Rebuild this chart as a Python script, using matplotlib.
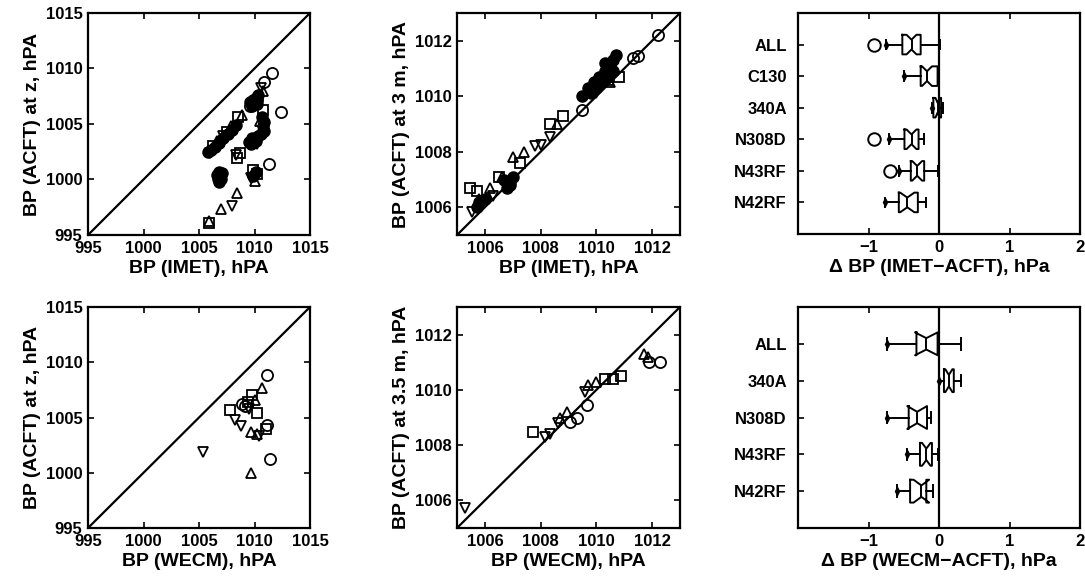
import matplotlib
matplotlib.use("Agg")
import matplotlib.pyplot as plt
import numpy as np

plt.rcParams['font.family'] = ['Liberation Sans', 'DejaVu Sans']
plt.rcParams['font.weight'] = 'bold'
plt.rcParams['axes.labelweight'] = 'bold'

# ---------------- scatter data ----------------
# BP(IMET) vs BP(ACFT) at z
tl_circle_x = [1011.6, 1010.9, 1012.4, 1011.3, 1010.2, 1009.6]
tl_circle_y = [1009.6, 1008.8, 1006.1, 1001.4, 1007.2, 1006.6]
tl_square_x = [1008.5, 1008.7, 1008.4, 1009.9, 1010.2, 1005.9, 1007.5, 1010.8, 1010.0, 1006.3]
tl_square_y = [1005.6, 1002.4, 1001.9, 1000.9, 1000.5, 996.1, 1004.3, 1006.3, 1006.9, 1003.0]
tl_triup_x = [1008.9, 1008.4, 1007.0, 1005.9, 1010.0, 1010.8, 1007.9, 1010.5, 1006.6]
tl_triup_y = [1005.8, 998.8, 997.3, 996.3, 999.9, 1008.0, 1004.8, 1005.3, 1003.5]
tl_tridn_x = [1010.6, 1008.0, 1008.3, 1009.7, 1006.0, 1007.2, 1010.9, 1010.2]
tl_tridn_y = [1008.2, 997.6, 1002.2, 1000.1, 1002.4, 1003.9, 1004.6, 1003.2]
tl_filled_x = [1009.6, 1009.9, 1010.2, 1009.8, 1010.1, 1010.3, 1009.7,
               1010.7, 1010.9, 1010.8, 1010.9, 1010.6,
               1009.5, 1009.8, 1010.1, 1010.3, 1009.7,
               1005.8, 1006.1, 1006.4, 1006.8, 1007.2, 1007.6, 1008.0, 1008.3,
               1006.7, 1006.9, 1007.0, 1006.8, 1006.6, 1007.1, 1006.8,
               1009.9, 1010.1]
tl_filled_y = [1007.0, 1007.2, 1006.8, 1006.6, 1007.3, 1007.6, 1006.9,
               1005.6, 1005.2, 1004.8, 1004.4, 1004.1,
               1003.4, 1003.7, 1003.5, 1003.9, 1003.2,
               1002.5, 1002.7, 1002.9, 1003.3, 1003.7, 1004.1, 1004.5, 1004.9,
               1000.0, 1000.4, 1000.0, 1000.7, 1000.4, 1000.6, 999.8,
               1000.3, 1000.7]

# BP(IMET) vs BP(ACFT) at 3 m
tm_circle_x = [1012.22, 1011.32, 1011.5, 1009.47]
tm_circle_y = [1012.22, 1011.38, 1011.46, 1009.52]
tm_square_x = [1005.47, 1005.7, 1007.26, 1008.33, 1008.8, 1010.8, 1006.5, 1010.4]
tm_square_y = [1006.7, 1006.6, 1007.6, 1009.0, 1009.3, 1010.7, 1007.1, 1010.6]
tm_triup_x = [1007.0, 1007.4, 1006.2, 1005.8, 1008.6, 1010.5, 1006.6]
tm_triup_y = [1007.8, 1008.0, 1006.7, 1006.3, 1009.0, 1010.5, 1007.1]
tm_tridn_x = [1005.53, 1007.8, 1008.0, 1008.33, 1005.9, 1006.3, 1010.0]
tm_tridn_y = [1005.84, 1008.2, 1008.25, 1008.54, 1006.1, 1006.4, 1010.1]
tm_filled_x = [1006.7, 1006.9, 1007.0, 1006.8, 1006.9, 1005.8, 1006.0, 1005.7,
               1009.5, 1009.7, 1009.8, 1009.9, 1010.0, 1010.1, 1010.2, 1010.3,
               1010.4, 1010.5, 1010.6, 1010.7, 1010.3, 1010.6]
tm_filled_y = [1007.0, 1006.9, 1007.1, 1006.7, 1006.8, 1006.2, 1006.3, 1006.0,
               1010.0, 1010.3, 1010.1, 1010.5, 1010.3, 1010.7, 1010.5, 1010.9,
               1010.7, 1011.1, 1011.3, 1011.5, 1011.2, 1010.9]

# BP(WECM) vs BP(ACFT) at z
bl_circle_x = [1011.1, 1009.1, 1011.1, 1011.4, 1008.9]
bl_circle_y = [1008.85, 1006.0, 1004.3, 1001.2, 1006.2]
bl_square_x = [1009.8, 1007.8, 1010.2, 1011.0, 1009.4]
bl_square_y = [1007.0, 1005.7, 1005.4, 1004.0, 1006.4]
bl_triup_x = [1010.7, 1009.7, 1009.7, 1010.0, 1010.2]
bl_triup_y = [1007.7, 1003.7, 1000.0, 1006.6, 1003.5]
bl_tridn_x = [1008.2, 1008.8, 1010.4, 1005.4, 1009.5]
bl_tridn_y = [1004.8, 1004.2, 1003.3, 1001.9, 1005.8]

# BP(WECM) vs BP(ACFT) at 3.5 m
bm_circle_x = [1009.05, 1009.29, 1009.65, 1012.3, 1011.9]
bm_circle_y = [1008.84, 1008.97, 1009.45, 1011.0, 1011.0]
bm_square_x = [1007.74, 1010.6, 1010.9, 1010.3]
bm_square_y = [1008.48, 1010.4, 1010.5, 1010.4]
bm_triup_x = [1008.93, 1009.7, 1010.0, 1011.85, 1011.7, 1008.7]
bm_triup_y = [1009.2, 1010.17, 1010.3, 1011.2, 1011.3, 1009.0]
bm_tridn_x = [1005.29, 1008.15, 1008.33, 1008.63, 1009.6]
bm_tridn_y = [1005.71, 1008.3, 1008.42, 1008.79, 1009.93]

# ---------------- box-plot summaries ----------------
imet_labels = ['ALL', 'C130', '340A', 'N308D', 'N43RF', 'N42RF']
imet_med = [-0.39, -0.17, -0.02, -0.39, -0.31, -0.45]
imet_q1 = [-0.52, -0.26, -0.08, -0.49, -0.40, -0.57]
imet_q3 = [-0.26, -0.02, 0.03, -0.29, -0.21, -0.30]
imet_lo = [-0.75, -0.49, -0.10, -0.71, -0.57, -0.76]
imet_hi = [0.02, 0.0, 0.05, -0.21, -0.02, -0.19]
imet_ci_lo = [-0.46, -0.24, -0.05, -0.46, -0.38, -0.55]
imet_ci_hi = [-0.32, -0.10, 0.01, -0.32, -0.24, -0.35]
imet_out = [[-0.92], [], [], [-0.92], [-0.70], []]

wecm_labels = ['ALL', '340A', 'N308D', 'N43RF', 'N42RF']
wecm_med = [-0.18, 0.14, -0.31, -0.18, -0.25]
wecm_q1 = [-0.32, 0.07, -0.43, -0.27, -0.41]
wecm_q3 = [-0.02, 0.21, -0.17, -0.10, -0.18]
wecm_lo = [-0.74, 0.0, -0.74, -0.46, -0.60]
wecm_hi = [0.31, 0.31, -0.11, -0.02, -0.08]
wecm_ci_lo = [-0.34, 0.09, -0.45, -0.24, -0.36]
wecm_ci_hi = [-0.02, 0.19, -0.17, -0.12, -0.14]
wecm_out = [[], [], [], [], []]

fig = plt.figure(figsize=(10.85, 5.87), dpi=100)
W, H = 1085.0, 587.0


def add_ax(x0, y0, x1, y1):
    return fig.add_axes([x0 / W, 1 - y1 / H, (x1 - x0) / W, (y1 - y0) / H])


def style(ax):
    for s in ax.spines.values():
        s.set_linewidth(1.6)
    ax.tick_params(direction='in', length=4, width=1.2, top=True, right=True,
                   labelsize=12, pad=4)
    for lab in ax.get_xticklabels() + ax.get_yticklabels():
        lab.set_fontweight('bold')


def scatter_panel(ax, lim, ticks, series, filled=None):
    ax.plot(lim, lim, color='black', lw=1.6, zorder=1)
    mk = dict(linestyle='none', markerfacecolor='none', markeredgecolor='black',
              markeredgewidth=1.3, zorder=3)
    (cx, cy), (sx, sy), (ux, uy), (dx, dy) = series
    ax.plot(cx, cy, marker='o', markersize=8, **mk)
    ax.plot(sx, sy, marker='s', markersize=7, **mk)
    ax.plot(ux, uy, marker='^', markersize=7.5, **mk)
    ax.plot(dx, dy, marker='v', markersize=7.5, **mk)
    if filled is not None:
        ax.plot(filled[0], filled[1], linestyle='none', marker='o', markersize=8,
                color='black', zorder=4)
    ax.set_xlim(lim)
    ax.set_ylim(lim)
    ax.set_xticks(ticks)
    ax.set_yticks(ticks)
    style(ax)


def box_panel(ax, labels, med, q1, q3, lo, hi, cil, cih, out):
    stats = []
    for i in range(len(labels)):
        stats.append(dict(med=med[i], q1=q1[i], q3=q3[i], whislo=lo[i], whishi=hi[i],
                          cilo=cil[i], cihi=cih[i], fliers=out[i], label=labels[i]))
    n = len(labels)
    pos = np.arange(1, n + 1)
    ax.axvline(0, color='black', lw=1.6, zorder=1)
    ax.bxp(stats, positions=pos, orientation='horizontal', shownotches=True, widths=0.62,
           showcaps=True,
           boxprops=dict(color='black', lw=1.4),
           medianprops=dict(color='black', lw=1.4),
           whiskerprops=dict(color='black', lw=1.4),
           capprops=dict(color='black', lw=1.4),
           flierprops=dict(marker='o', markerfacecolor='none', markeredgecolor='black',
                           markersize=9, markeredgewidth=1.4))
    ax.plot(lo, pos, linestyle='none', marker='d', markersize=4, color='black')
    ax.set_xlim(-2, 2)
    ax.set_ylim(n + 1, 0)
    ax.set_xticks([-1, 0, 1, 2])
    ax.set_xticklabels(['\u22121', '0', '1', '2'])
    ax.set_yticks(pos)
    ax.set_yticklabels(labels)
    style(ax)
    ax.tick_params(axis='y', right=False, pad=8)


ax1 = add_ax(88, 13, 310, 235)
scatter_panel(ax1, [995, 1015], [995, 1000, 1005, 1010, 1015],
              [(tl_circle_x, tl_circle_y), (tl_square_x, tl_square_y),
               (tl_triup_x, tl_triup_y), (tl_tridn_x, tl_tridn_y)],
              filled=(tl_filled_x, tl_filled_y))
ax1.set_xlabel('BP (IMET), hPA', fontsize=14, labelpad=3)
ax1.set_ylabel('BP (ACFT) at z, hPA', fontsize=14, labelpad=3)

ax2 = add_ax(457, 13, 680, 235)
scatter_panel(ax2, [1005, 1013], [1006, 1008, 1010, 1012],
              [(tm_circle_x, tm_circle_y), (tm_square_x, tm_square_y),
               (tm_triup_x, tm_triup_y), (tm_tridn_x, tm_tridn_y)],
              filled=(tm_filled_x, tm_filled_y))
ax2.set_xlabel('BP (IMET), hPA', fontsize=14, labelpad=3)
ax2.set_ylabel('BP (ACFT) at 3 m, hPA', fontsize=14, labelpad=3)

ax3 = add_ax(798, 13, 1080, 234)
box_panel(ax3, imet_labels, imet_med, imet_q1, imet_q3, imet_lo, imet_hi,
          imet_ci_lo, imet_ci_hi, imet_out)
ax3.set_xlabel('\u0394 BP (IMET\u2212ACFT), hPa', fontsize=14, labelpad=3)

ax4 = add_ax(88, 307, 310, 528)
scatter_panel(ax4, [995, 1015], [995, 1000, 1005, 1010, 1015],
              [(bl_circle_x, bl_circle_y), (bl_square_x, bl_square_y),
               (bl_triup_x, bl_triup_y), (bl_tridn_x, bl_tridn_y)])
ax4.set_xlabel('BP (WECM), hPA', fontsize=14, labelpad=3)
ax4.set_ylabel('BP (ACFT) at z, hPA', fontsize=14, labelpad=3)

ax5 = add_ax(457, 307, 680, 528)
scatter_panel(ax5, [1005, 1013], [1006, 1008, 1010, 1012],
              [(bm_circle_x, bm_circle_y), (bm_square_x, bm_square_y),
               (bm_triup_x, bm_triup_y), (bm_tridn_x, bm_tridn_y)])
ax5.set_xlabel('BP (WECM), hPA', fontsize=14, labelpad=3)
ax5.set_ylabel('BP (ACFT) at 3.5 m, hPA', fontsize=14, labelpad=3)

ax6 = add_ax(798, 307, 1080, 528)
box_panel(ax6, wecm_labels, wecm_med, wecm_q1, wecm_q3, wecm_lo, wecm_hi,
          wecm_ci_lo, wecm_ci_hi, wecm_out)
ax6.set_xlabel('\u0394 BP (WECM\u2212ACFT), hPa', fontsize=14, labelpad=3)

fig.savefig('out.png', dpi=100)
